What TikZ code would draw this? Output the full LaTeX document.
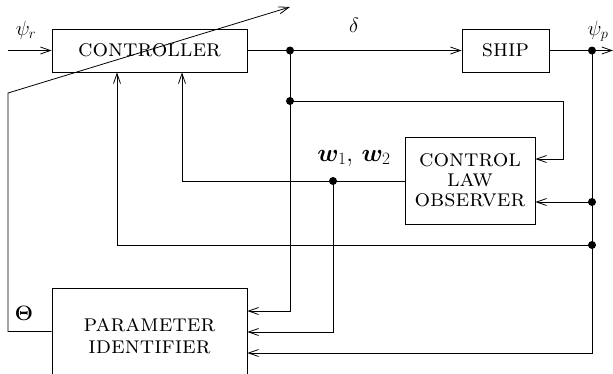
\documentclass[tikz,border=0pt]{standalone}
\usetikzlibrary{arrows.meta,calc}
\usepackage{bm}
\tikzset{
  blk/.style={draw, line width=0.8pt, inner sep=0pt, align=center,
    font=\fontsize{24.5}{20}\selectfont\scshape},
  wire/.style={line width=0.8pt},
  arr/.style={wire, -{Straight Barb[length=10pt,width=7pt,line width=0.8pt]}},
  dot/.style={circle, fill, inner sep=0pt, minimum size=8pt},
  lbl/.style={font=\fontsize{21.5}{24}\selectfont, inner sep=0pt},
}
\begin{document}
\begin{tikzpicture}[x=1pt,y=-1pt]
\path[use as bounding box, clip] (0,0) rectangle (613,373);
% blocks
\node[blk, minimum width=195pt, minimum height=43pt] (ctrl) at (149.5,50.5) {controller};
\node[blk, minimum width=87pt, minimum height=43pt] (ship) at (505.5,50.5) {ship};
\node[blk, minimum width=130pt, minimum height=87pt] (obs) at (470,180.5) {control\\law\\observer};
\node[blk, minimum width=195pt, minimum height=96pt, font=\fontsize{24.5}{22}\selectfont\scshape] (par) at (149.5,336) {parameter\\identifier};
% coordinates
\coordinate (in) at (8,50.5);
\coordinate (out) at (613,50.5);
\coordinate (jd) at (290,50.5);
\coordinate (jd2) at (290,101);
\coordinate (jp) at (592,50.5);
\coordinate (jp1) at (592,202);
\coordinate (jp2) at (592,245);
\coordinate (jw) at (333,181);
\coordinate (c1) at (563,101);
\coordinate (c2) at (563,159);
\coordinate (c3) at (592,353);
\coordinate (c4) at (290,311);
\coordinate (c5) at (333,332);
\coordinate (c6) at (117,245);
\coordinate (c7) at (182,181);
\coordinate (c8) at (8,331.5);
\coordinate (c9) at (8,93);
\coordinate (c10) at (290,7);
% wires
\draw[arr] (in) -- (ctrl.west);
\draw[arr] (ctrl.east) -- (ship.west);
\draw[arr] (ship.east) -- (out);
\draw[arr] (jd) -- (c4) -- (c4 -| par.east);
\draw[arr] (jd2) -- (c1) -- (c2) -- (c2 -| obs.east);
\draw[arr] (jp) -- (c3) -- (c3 -| par.east);
\draw[arr] (jp1) -- (jp1 -| obs.east);
\draw[arr] (jp2) -- (c6) -- (c6 |- ctrl.south);
\draw[arr] (obs.west |- jw) -- (c7) -- (c7 |- ctrl.south);
\draw[arr] (jw) -- (c5) -- (c5 -| par.east);
\draw[arr] (par.west |- c8) -- (c8) -- (c9) -- (c10);
% dots
\foreach \p in {jd,jd2,jp,jp1,jp2,jw} \node[dot] at (\p) {};
% labels
\node[lbl] (lpr) at (26,30) {$\psi_r$};
\node[lbl] (ld) at (354,25) {$\delta$};
\node[lbl] (lpp) at (598,31) {$\psi_p$};
\node[lbl, font=\fontsize{25.5}{26}\selectfont] (lw) at (354,158) {$\bm{w}_1,\,\bm{w}_2$};
\node[lbl] (lth) at (24,313) {$\bm{\Theta}$};
\end{tikzpicture}
\end{document}
